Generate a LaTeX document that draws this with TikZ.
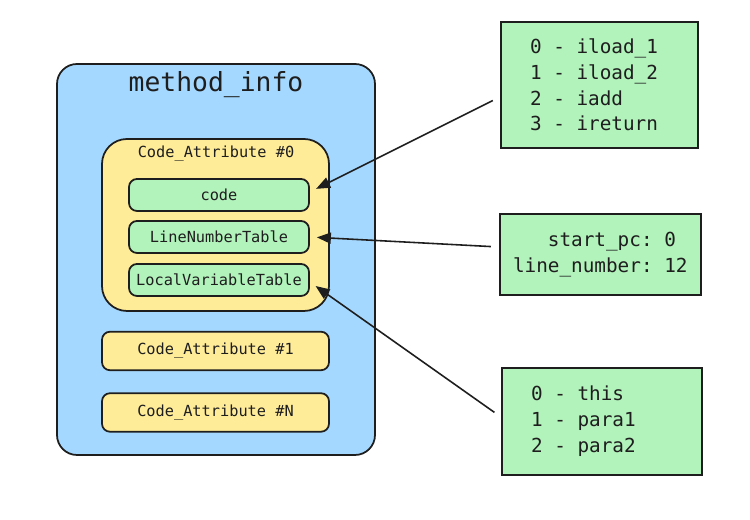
\documentclass[tikz,border=0pt]{standalone}
\usepackage{fontspec}
\setmainfont{DejaVu Sans Mono}
\usetikzlibrary{arrows.meta}
\definecolor{methodblue}{HTML}{A5D8FF}
\definecolor{attryellow}{HTML}{FFEC99}
\definecolor{tablegreen}{HTML}{B2F2BB}
\definecolor{inkdark}{HTML}{1E1E1E}
\newcommand{\cell}{\hphantom{0}}
\begin{document}
\begin{tikzpicture}[
 outerbox/.style={rectangle, draw=inkdark, line width=1pt, rounded corners=0.4cm, fill=methodblue, minimum width=6.36cm, minimum height=7.82cm},
 attrbox/.style={rectangle, draw=inkdark, line width=1pt, rounded corners=0.16cm, fill=attryellow, minimum width=4.54cm, minimum height=0.77cm, font=\fontsize{8.7}{10}\selectfont, text=inkdark, inner sep=0pt},
 tblbox/.style={rectangle, draw=inkdark, line width=1pt, rounded corners=0.16cm, fill=tablegreen, minimum width=3.6cm, minimum height=0.64cm, font=\fontsize{8.7}{10}\selectfont, text=inkdark, inner sep=0pt},
 databox/.style={rectangle, draw=inkdark, line width=1.2pt, fill=tablegreen, font=\fontsize{11}{14.7}\selectfont, text=inkdark, align=left, inner sep=0pt},
 arr/.style={-{Triangle[length=0.28cm,width=0.22cm]}, line width=0.9pt, inkdark, shorten >=0.14cm, shorten <=0.16cm},
]
\useasboundingbox (0,0) rectangle (15,10.4);

% method_info and its attributes
\node[outerbox] (method) at (4.32,5.21) {};
\node[font=\fontsize{15}{18}\selectfont, text=inkdark] (mtitle) at (4.32,8.70) {method\_info};
\node[attrbox, rounded corners=0.5cm, minimum height=3.44cm] (attr0) at (4.31,5.90) {};
\node[font=\fontsize{8.7}{10}\selectfont, text=inkdark] (a0title) at (4.32,7.32) {Code\_Attribute \#0};
\node[tblbox] (code) at (4.38,6.50) {code};
\node[tblbox] (lnt) at (4.38,5.66) {LineNumberTable};
\node[tblbox] (lvt) at (4.38,4.80) {LocalVariableTable};
\node[attrbox] (attr1) at (4.31,3.38) {Code\_Attribute \#1};
\node[attrbox] (attrn) at (4.31,2.15) {Code\_Attribute \#N};

% tables
\node[databox, minimum width=3.94cm, minimum height=2.52cm, text width=2.78cm] (bytecode) at (11.99,8.70)
 {0\cell-\cell iload\_1\\1\cell-\cell iload\_2\\2\cell-\cell iadd\\3\cell-\cell ireturn};
\node[databox, minimum width=4.02cm, minimum height=1.62cm, text width=3.5cm] (lines) at (12.01,5.31)
 {\cell\cell\cell start\_pc:\cell 0\\line\_number:\cell 12};
\node[databox, minimum width=4.0cm, minimum height=2.14cm, text width=2.84cm] (locals) at (12.04,1.97)
 {0\cell-\cell this\\1\cell-\cell para1\\2\cell-\cell para2};

\draw[arr] ([yshift=-0.24cm]bytecode.west) -- ([yshift=0.06cm]code.east);
\draw[arr] ([yshift=0.15cm]lines.west) -- (lnt.east);
\draw[arr] ([yshift=0.09cm]locals.west) -- ([yshift=-0.04cm]lvt.east);
\end{tikzpicture}
\end{document}
